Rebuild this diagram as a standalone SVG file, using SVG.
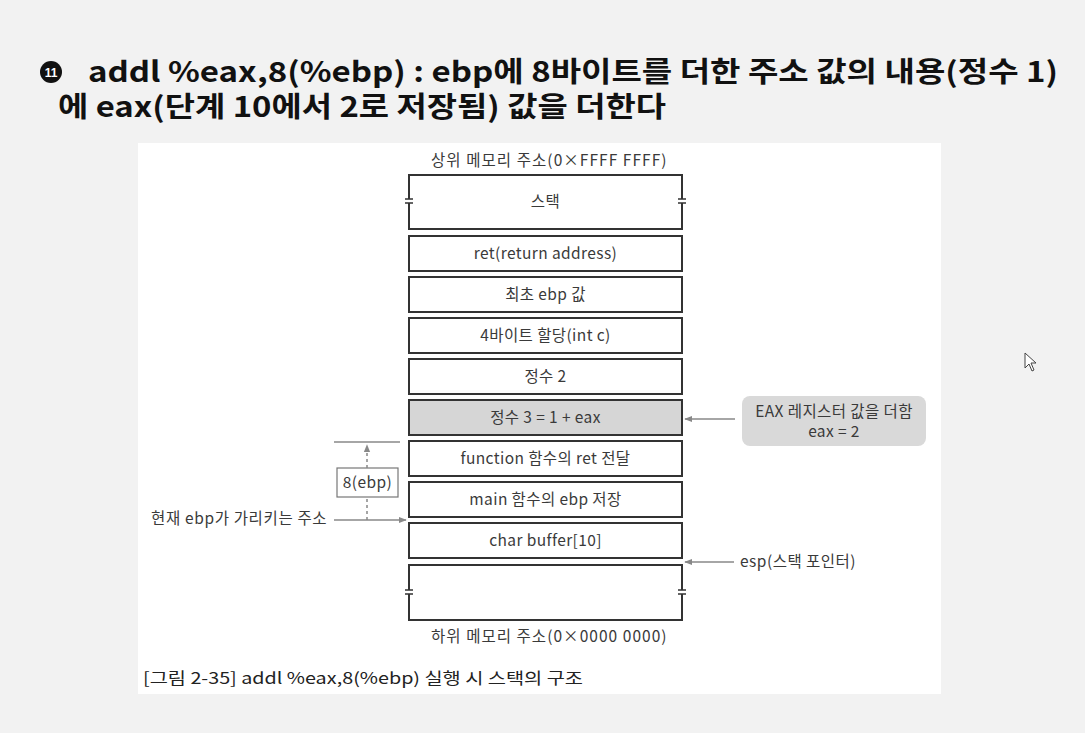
<svg xmlns="http://www.w3.org/2000/svg" width="1085" height="733" viewBox="0 0 1085 733">
<defs>
<style>
.title{font-family:"Noto Sans CJK KR","Noto Sans",sans-serif;font-weight:bold;font-size:28px;fill:#111}
.t{font-family:"Noto Sans CJK KR","Noto Sans",sans-serif;font-size:15.5px;fill:#3a3a3a;letter-spacing:0.4px}
.cap{font-family:"Noto Sans CJK KR","Noto Sans",sans-serif;font-size:16px;fill:#222}
.box{fill:#fff;stroke:#333;stroke-width:2}
.gbox{fill:#d6d6d6;stroke:#333;stroke-width:2}
.ln{stroke:#888;stroke-width:1.5;fill:none}
.brk{stroke:#333;stroke-width:1.3}
</style>
<marker id="ah" viewBox="0 0 10 10" refX="9" refY="5" markerWidth="8" markerHeight="8" markerUnits="userSpaceOnUse" orient="auto">
<path d="M0,1 L10,5 L0,9 Z" fill="#888"/>
</marker>
</defs>
<rect x="0" y="0" width="1085" height="733" fill="#f2f2f2"/>
<g id="title">
<circle cx="51" cy="72" r="11" fill="#111"/>
<text x="51" y="76.5" text-anchor="middle" font-family="Liberation Sans,sans-serif" font-weight="bold" font-size="12" fill="#fff">11</text>
<text class="title" x="88" y="82" textLength="970" lengthAdjust="spacingAndGlyphs">addl %eax,8(%ebp) : ebp에 8바이트를 더한 주소 값의 내용(정수 1)</text>
<text class="title" x="58" y="117" textLength="608" lengthAdjust="spacingAndGlyphs">에 eax(단계 10에서 2로 저장됨) 값을 더한다</text>
</g>
<rect id="panel" x="138" y="143" width="803" height="551" fill="#fff"/>
<text class="t" x="549" y="166" text-anchor="middle" textLength="236">상위 메모리 주소(0×FFFF FFFF)</text>
<g id="stack-top"><rect class="box" x="409" y="175" width="273" height="54"/><text class="t" x="545.5" y="207" text-anchor="middle">스택</text></g>
<g id="ret"><rect class="box" x="409" y="236" width="273" height="35"/><text class="t" x="545.5" y="259" text-anchor="middle">ret(return address)</text></g>
<g id="first-ebp"><rect class="box" x="409" y="277" width="273" height="35"/><text class="t" x="545.5" y="300" text-anchor="middle">최초 ebp 값</text></g>
<g id="int-c"><rect class="box" x="409" y="318" width="273" height="35"/><text class="t" x="545.5" y="341" text-anchor="middle">4바이트 할당(int c)</text></g>
<g id="int2"><rect class="box" x="409" y="359" width="273" height="35"/><text class="t" x="545.5" y="382" text-anchor="middle">정수 2</text></g>
<g id="int3"><rect class="gbox" x="409" y="400" width="273" height="35"/><text class="t" x="545.5" y="423" text-anchor="middle">정수 3 = 1 + eax</text></g>
<g id="func-ret"><rect class="box" x="409" y="441" width="273" height="35"/><text class="t" x="545.5" y="464" text-anchor="middle">function 함수의 ret 전달</text></g>
<g id="main-ebp"><rect class="box" x="409" y="482" width="273" height="35"/><text class="t" x="545.5" y="505" text-anchor="middle">main 함수의 ebp 저장</text></g>
<g id="buffer"><rect class="box" x="409" y="523" width="273" height="35"/><text class="t" x="545.5" y="546" text-anchor="middle">char buffer[10]</text></g>
<g id="stack-bottom"><rect class="box" x="409" y="565" width="273" height="55"/></g>
<g id="breaks">
<rect x="406" y="199" width="6" height="4" fill="#fff"/><rect x="679" y="199" width="6" height="4" fill="#fff"/>
<rect x="406" y="590" width="6" height="4" fill="#fff"/><rect x="679" y="590" width="6" height="4" fill="#fff"/>
<path class="brk" d="M405,199H413M405,203H413M678,199H686M678,203H686M405,590H413M405,594H413M678,590H686M678,594H686"/>
</g>
<text class="t" x="549" y="642" text-anchor="middle" textLength="236">하위 메모리 주소(0×0000 0000)</text>
<g id="callout-eax">
<rect x="742" y="396" width="184" height="50" rx="8" fill="#d9d9d9"/>
<text class="t" x="834" y="417" text-anchor="middle">EAX 레지스터 값을 더함</text>
<text class="t" x="834" y="437" text-anchor="middle">eax = 2</text>
</g>
<g id="label-ebp"><text class="t" x="151" y="524" textLength="176">현재 ebp가 가리키는 주소</text></g>
<g id="label-8ebp"><rect x="337" y="468" width="61" height="29" fill="#fff" stroke="#777" stroke-width="1.2"/><text class="t" x="367.5" y="488" text-anchor="middle">8(ebp)</text></g>
<g id="label-esp"><text class="t" x="740" y="567" textLength="116">esp(스택 포인터)</text></g>
<g id="connectors">
<line class="ln" x1="735" y1="419" x2="685" y2="419" marker-end="url(#ah)"/>
<line class="ln" x1="734" y1="562" x2="685" y2="562" marker-end="url(#ah)"/>
<line class="ln" x1="334" y1="520" x2="406" y2="520" marker-end="url(#ah)"/>
<line class="ln" x1="334" y1="442" x2="400" y2="442"/>
<line class="ln" x1="367" y1="520" x2="367" y2="497" stroke-dasharray="3,3"/>
<line class="ln" x1="367" y1="468" x2="367" y2="445" stroke-dasharray="3,3" marker-end="url(#ah)"/>
</g>
<path id="cursor" d="M1025,353 L1025,368 L1029,364 L1032,371 L1034,370 L1031,363 L1036,363 Z" fill="#fff" stroke="#444" stroke-width="1"/>
<text class="cap" x="143" y="684" textLength="440" lengthAdjust="spacingAndGlyphs">[그림 2-35] addl %eax,8(%ebp) 실행 시 스택의 구조</text>
</svg>
